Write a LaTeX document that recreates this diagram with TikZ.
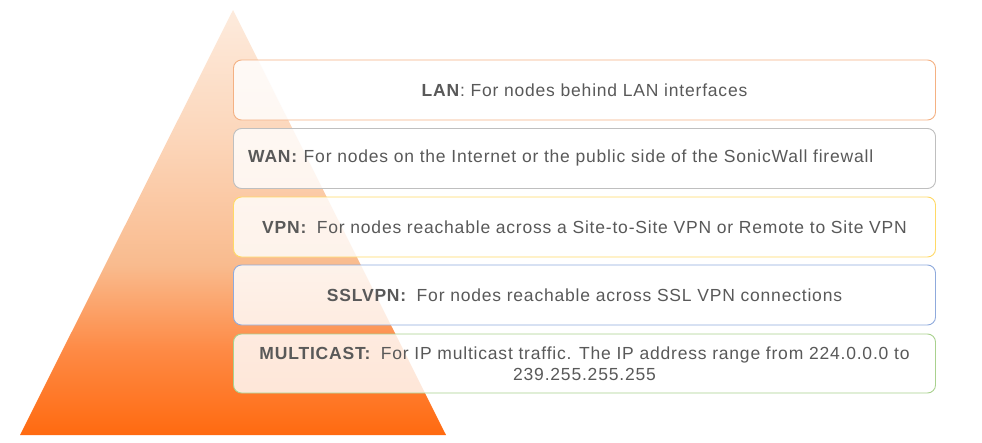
\documentclass[tikz,border=0pt]{standalone}
\usepackage{fontspec}
\setmainfont{Liberation Sans}
\newfontfamily\boxfont[LetterSpace=4.6]{Liberation Sans}
\definecolor{txt}{HTML}{595959}
\definecolor{lanc}{HTML}{F4B183}
\definecolor{wanc}{HTML}{BFBFBF}
\definecolor{vpnc}{HTML}{FFD966}
\definecolor{sslc}{HTML}{8FAADC}
\definecolor{mulc}{HTML}{A9D18E}
\definecolor{orT}{HTML}{FDEBDD}
\definecolor{orA}{HTML}{FCD6BA}
\definecolor{orM}{HTML}{F9BB8E}
\definecolor{orD}{HTML}{FE8A45}
\definecolor{orB}{HTML}{FF6A10}
\pgfdeclareverticalshading{tri}{100bp}{color(0bp)=(orB); color(25bp)=(orB); color(35bp)=(orD); color(45bp)=(orM); color(60bp)=(orA); color(75bp)=(orT); color(100bp)=(orT)}
\newcommand{\gapc}{\hspace{4pt}}
\tikzset{
  layer/.style={rounded corners=8pt, line width=0.9pt, fill=white, fill opacity=0.82, text opacity=1,
    minimum width=702pt, minimum height=60pt, inner sep=0pt, text=txt, align=center,
    font=\boxfont\fontsize{17.5}{21}\selectfont},
  lbl/.style={text=txt, inner sep=0pt, font=\boxfont\fontsize{17.5}{21}\selectfont}
}
\begin{document}
\begin{tikzpicture}[x=1pt,y=-1pt]
\useasboundingbox (0,0) rectangle (982,442);
\shade[shading=tri] (233,10) -- (446,435) -- (20,435) -- cycle;
\node[layer, draw=lanc] (lan) at (584.5,90) {\textbf{LAN}: For nodes behind LAN interfaces};
\node[layer, draw=wanc] (wan) at (584.5,158.5) {};
\node[lbl, anchor=west] (wantext) at (248,158) {\textbf{WAN:} For nodes on the Internet or the public side of the SonicWall firewall};
\node[layer, draw=vpnc] (vpn) at (584.5,227) {\textbf{VPN:}\gapc{} For nodes reachable across a Site-to-Site VPN or Remote to Site VPN};
\node[layer, draw=sslc] (ssl) at (584.5,295) {\textbf{SSLVPN:}\gapc{} For nodes reachable across SSL VPN connections};
\node[layer, draw=mulc, minimum height=59pt] (mul) at (584.5,363.5) {\textbf{MULTICAST:}\gapc{} For IP multicast traffic. The IP address range from 224.0.0.0 to\\239.255.255.255};
\end{tikzpicture}
\end{document}
